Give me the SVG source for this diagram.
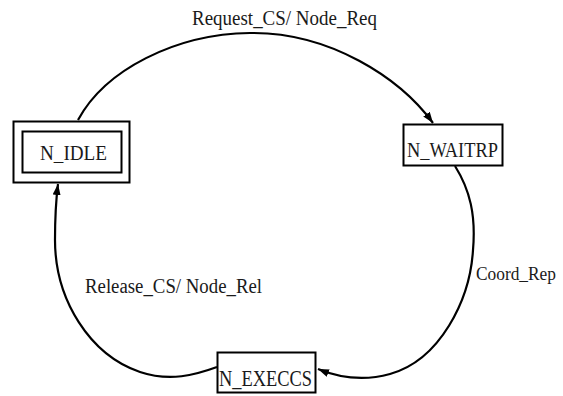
<svg xmlns="http://www.w3.org/2000/svg" width="563" height="396" viewBox="0 0 563 396">
<style>
  .box { fill: #ffffff; stroke: #000000; stroke-width: 2; }
  .lbl { font-family: "Liberation Serif", "Times New Roman", serif; fill: #1a1a1a; }
  .edge { fill: none; stroke: #000000; stroke-width: 2.2; }
</style>
<defs>
  <marker id="arr" markerUnits="userSpaceOnUse" markerWidth="12" markerHeight="10" refX="11" refY="4" orient="auto">
    <path d="M0,0 L11,4 L0,8 Z" fill="#000000"/>
  </marker>
</defs>
<rect width="563" height="396" fill="#ffffff"/>
<g id="connectors">
  <path class="edge" d="M78,120 C105,70 175,34 250,33 C330,32 400,78 433,123" marker-end="url(#arr)"/>
  <path class="edge" d="M455,166 C470,190 476,215 473,250 C470,300 440,360 390,374 C365,381 340,378 318,369" marker-end="url(#arr)"/>
  <path class="edge" d="M217,367 C195,375 170,382 140,372 C90,355 55,300 55,240 C55,215 56,200 58,184" marker-end="url(#arr)"/>
</g>
<g id="label-request">
  <text class="lbl" x="192" y="25" font-size="20" textLength="185" lengthAdjust="spacingAndGlyphs">Request_CS/ Node_Req</text>
</g>
<g id="label-release">
  <text class="lbl" x="85" y="293" font-size="20" textLength="177" lengthAdjust="spacingAndGlyphs">Release_CS/ Node_Rel</text>
</g>
<g id="label-coord">
  <text class="lbl" x="476" y="280" font-size="18" textLength="80" lengthAdjust="spacingAndGlyphs">Coord_Rep</text>
</g>
<g id="N_IDLE">
  <rect class="box" x="13.5" y="121.5" width="116" height="61"/>
  <rect class="box" x="22.5" y="131.5" width="99" height="41" stroke-width="1.5"/>
  <text class="lbl" x="40" y="160" font-size="22" textLength="67" lengthAdjust="spacingAndGlyphs">N_IDLE</text>
</g>
<g id="N_WAITRP">
  <rect class="box" x="403.5" y="124.5" width="99" height="41"/>
  <text class="lbl" x="407" y="157" font-size="22" textLength="91" lengthAdjust="spacingAndGlyphs">N_WAITRP</text>
</g>
<g id="N_EXECCS">
  <rect class="box" x="217.5" y="352.5" width="98" height="40"/>
  <text class="lbl" x="219" y="386" font-size="23" textLength="93" lengthAdjust="spacingAndGlyphs">N_EXECCS</text>
</g>
</svg>
